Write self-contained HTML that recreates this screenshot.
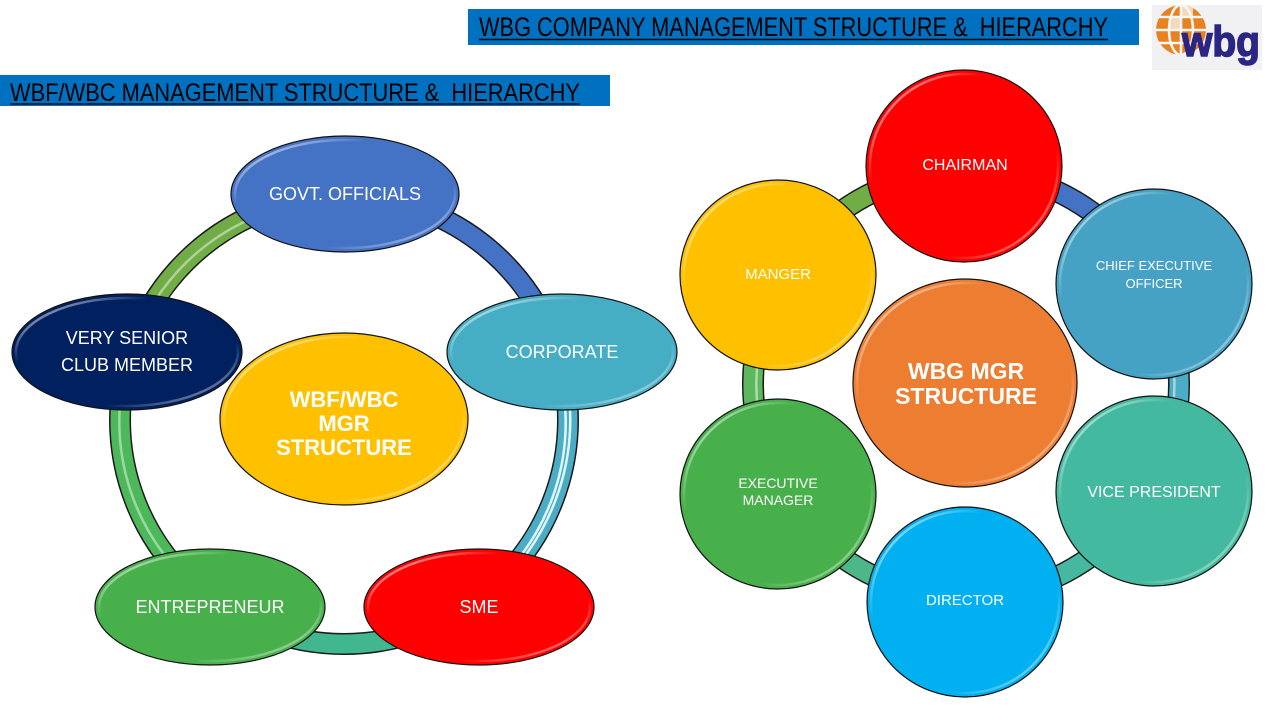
<!DOCTYPE html>
<html>
<head>
<meta charset="utf-8">
<style>
  html,body{margin:0;padding:0;background:#fff;}
  body{width:1280px;height:720px;overflow:hidden;}
  svg{display:block;}
  .lbl{font-family:"Liberation Sans",Arial,sans-serif;fill:#fff;text-anchor:middle;}
  .b{font-weight:bold;}
</style>
</head>
<body>
<svg width="1280" height="720" viewBox="0 0 1280 720" xmlns="http://www.w3.org/2000/svg">
  <defs>
    <linearGradient id="gl" x1="0" y1="0" x2="1" y2="1">
      <stop offset="0" stop-color="#fff" stop-opacity="0.9"/>
      <stop offset="0.3" stop-color="#fff" stop-opacity="0"/>
      <stop offset="0.7" stop-color="#fff" stop-opacity="0"/>
      <stop offset="1" stop-color="#fff" stop-opacity="0.7"/>
    </linearGradient>
    <clipPath id="globe"><circle cx="1181" cy="30" r="25"/></clipPath>
  </defs>

  <!-- Top banner -->
  <rect x="468" y="9" width="671" height="36" fill="#0070C0"/>
  <text x="479" y="36" xml:space="preserve" font-family="Liberation Sans, Arial, sans-serif" font-size="27" fill="#000" textLength="629" lengthAdjust="spacingAndGlyphs">WBG COMPANY MANAGEMENT STRUCTURE &amp;  HIERARCHY</text>
  <line x1="479" y1="39.5" x2="1108" y2="39.5" stroke="#000" stroke-width="1.5"/>

  <!-- Logo -->
  <rect x="1152" y="5" width="110" height="65" fill="#f1f1f4"/>
  <g clip-path="url(#globe)">
    <circle cx="1181" cy="30" r="25" fill="#E8821E"/>
    <rect x="1181" y="5" width="12" height="12" fill="#f6d9b8"/>
    <rect x="1169" y="17" width="12" height="12" fill="#f6d9b8"/>
    <g stroke="#f6f6f8" stroke-width="2.6" fill="none">
      <ellipse cx="1181" cy="30" rx="12" ry="25"/>
      <line x1="1181" y1="4" x2="1181" y2="56"/>
      <line x1="1155" y1="30" x2="1207" y2="30"/>
      <line x1="1155" y1="17" x2="1207" y2="17"/>
      <line x1="1155" y1="43" x2="1207" y2="43"/>
    </g>
  </g>
  <text x="1182" y="56" font-family="Liberation Sans, Arial, sans-serif" font-size="43" font-weight="bold" fill="#2B2583" stroke="#2B2583" stroke-width="1.5" textLength="78" lengthAdjust="spacingAndGlyphs">wbg</text>

  <!-- Left banner -->
  <rect x="0" y="75" width="610" height="31" fill="#0070C0"/>
  <text x="10" y="101" xml:space="preserve" font-family="Liberation Sans, Arial, sans-serif" font-size="25" fill="#000" textLength="570" lengthAdjust="spacingAndGlyphs">WBF/WBC MANAGEMENT STRUCTURE &amp;  HIERARCHY</text>
  <line x1="10" y1="104" x2="580" y2="104" stroke="#000" stroke-width="1.3"/>

  <!-- LEFT RING -->
  <circle cx="344" cy="420" r="224" fill="none" stroke="#1a1a1a" stroke-width="22"/>
  <g fill="none" stroke-width="19">
    <path d="M344,196 A224,224 0 0 1 557,350.8" stroke="#4472C4"/>
    <path d="M557,350.8 A224,224 0 0 1 475.7,601.2" stroke="#4BACC6"/>
    <path d="M475.7,601.2 A224,224 0 0 1 212.3,601.2" stroke="#40B78E"/>
    <path d="M212.3,601.2 A224,224 0 0 1 131,350.8" stroke="#4CB85A"/>
    <path d="M131,350.8 A224,224 0 0 1 344,196" stroke="#70AD47"/>
  </g>
  <g fill="none" stroke="#fff" stroke-opacity="0.45" stroke-width="2.5">
    <path d="M131,350.8 A220,220 0 0 1 344,200"/>
    <path d="M212.3,601.2 A220,220 0 0 1 131,350.8"/>
  </g>
  <g fill="none" stroke="#dff6fb" stroke-width="2.5">
    <path d="M557,350.8 A220,220 0 0 1 475.7,601.2" transform="translate(-3,1)"/>
    <path d="M557,350.8 A228,228 0 0 1 475.7,601.2" transform="translate(3,1)"/>
  </g>

  <!-- LEFT NODES -->
  <g stroke="#111" stroke-width="1.2">
    <ellipse cx="345" cy="194" rx="114" ry="58" fill="#4472C4"/>
    <ellipse cx="562" cy="352" rx="115" ry="58" fill="#45ADC4"/>
    <ellipse cx="127" cy="352" rx="115" ry="58" fill="#002060"/>
    <ellipse cx="210" cy="607" rx="115" ry="58" fill="#47B04B"/>
    <ellipse cx="479" cy="607" rx="115" ry="58" fill="#FF0000"/>
    <ellipse cx="344" cy="419" rx="124" ry="86" fill="#FFC000"/>
  </g>
  <g fill="none" stroke="url(#gl)" stroke-width="2.5">
    <ellipse cx="345" cy="194" rx="110" ry="54"/>
    <ellipse cx="562" cy="352" rx="111" ry="54"/>
    <ellipse cx="127" cy="352" rx="111" ry="54"/>
    <ellipse cx="210" cy="607" rx="111" ry="54"/>
    <ellipse cx="479" cy="607" rx="111" ry="54"/>
    <ellipse cx="344" cy="419" rx="120" ry="82"/>
  </g>
  <g font-size="18">
    <text class="lbl" x="345" y="200">GOVT. OFFICIALS</text>
    <text class="lbl" x="562" y="358">CORPORATE</text>
    <text class="lbl" x="127" y="344">VERY SENIOR</text>
    <text class="lbl" x="127" y="371">CLUB MEMBER</text>
    <text class="lbl" x="210" y="613">ENTREPRENEUR</text>
    <text class="lbl" x="479" y="613">SME</text>
  </g>
  <g font-size="22">
    <text class="lbl b" x="344" y="407">WBF/WBC</text>
    <text class="lbl b" x="344" y="431">MGR</text>
    <text class="lbl b" x="344" y="455">STRUCTURE</text>
  </g>

  <!-- RIGHT RING -->
  <circle cx="966" cy="384" r="213" fill="none" stroke="#1a1a1a" stroke-width="22"/>
  <g fill="none" stroke-width="19">
    <path d="M781.5,277.5 A213,213 0 0 1 966,171" stroke="#70AD47"/>
    <path d="M966,171 A213,213 0 0 1 1150.5,277.5" stroke="#4472C4"/>
    <path d="M1150.5,277.5 A213,213 0 0 1 1150.5,490.5" stroke="#4BACC6"/>
    <path d="M1150.5,490.5 A213,213 0 0 1 966,597" stroke="#45B8A0"/>
    <path d="M966,597 A213,213 0 0 1 781.5,490.5" stroke="#4CB88A"/>
    <path d="M781.5,490.5 A213,213 0 0 1 781.5,277.5" stroke="#5CB85C"/>
  </g>
  <g fill="none" stroke="#fff" stroke-opacity="0.5" stroke-width="2.5">
    <path d="M781.5,490.5 A209,209 0 0 1 781.5,277.5" transform="translate(4,0)"/>
    <path d="M1150.5,277.5 A217,217 0 0 1 1150.5,490.5" transform="translate(-4,0)"/>
  </g>

  <!-- RIGHT NODES -->
  <g stroke="#111" stroke-width="1.2">
    <ellipse cx="964" cy="166" rx="98" ry="96" fill="#FF0000"/>
    <ellipse cx="1154" cy="284" rx="98" ry="95" fill="#45A2C4"/>
    <ellipse cx="1154" cy="491" rx="98" ry="95" fill="#43B9A0"/>
    <ellipse cx="965" cy="602" rx="98" ry="95" fill="#00B0F0"/>
    <ellipse cx="778" cy="494" rx="98" ry="95" fill="#47B04B"/>
    <ellipse cx="778" cy="275" rx="98" ry="95" fill="#FFC000"/>
    <ellipse cx="965" cy="383" rx="112" ry="104" fill="#ED7D31"/>
  </g>
  <g fill="none" stroke="url(#gl)" stroke-width="2.5">
    <ellipse cx="964" cy="166" rx="94" ry="92"/>
    <ellipse cx="1154" cy="284" rx="94" ry="91"/>
    <ellipse cx="1154" cy="491" rx="94" ry="91"/>
    <ellipse cx="965" cy="602" rx="94" ry="91"/>
    <ellipse cx="778" cy="494" rx="94" ry="91"/>
    <ellipse cx="778" cy="275" rx="94" ry="91"/>
    <ellipse cx="965" cy="383" rx="108" ry="100"/>
  </g>
  <text class="lbl" x="965" y="170" font-size="16">CHAIRMAN</text>
  <text class="lbl" x="1154" y="270" font-size="13">CHIEF EXECUTIVE</text>
  <text class="lbl" x="1154" y="288" font-size="13">OFFICER</text>
  <text class="lbl" x="778" y="279" font-size="15">MANGER</text>
  <text class="lbl" x="1154" y="497" font-size="16">VICE PRESIDENT</text>
  <text class="lbl" x="965" y="605" font-size="15">DIRECTOR</text>
  <text class="lbl" x="778" y="488" font-size="14">EXECUTIVE</text>
  <text class="lbl" x="778" y="505" font-size="14">MANAGER</text>
  <text class="lbl b" x="966" y="379" font-size="23">WBG MGR</text>
  <text class="lbl b" x="966" y="404" font-size="23">STRUCTURE</text>
</svg>
</body>
</html>
